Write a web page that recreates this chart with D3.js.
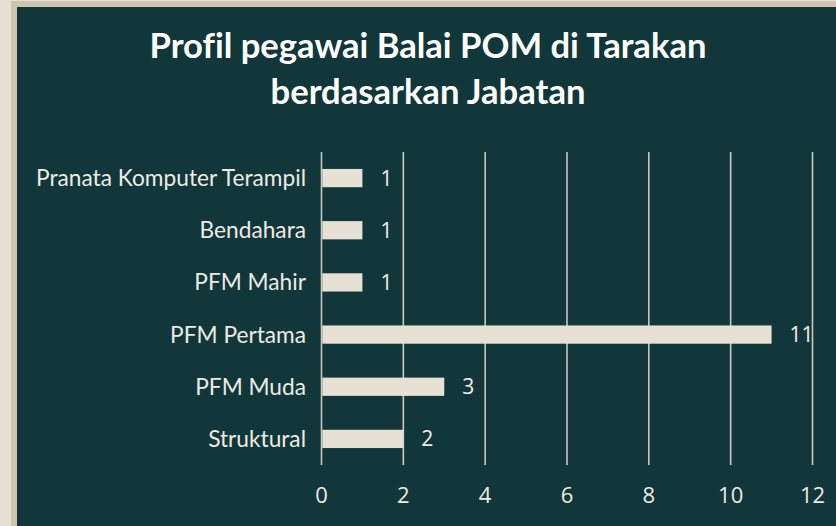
<!DOCTYPE html>
<html>
<head>
<meta charset="utf-8">
<script src="https://cdn.jsdelivr.net/npm/d3@7"></script>
<style>
  html, body { margin: 0; padding: 0; background: #e6e0d3; }
  svg { display: block; }
  text { font-variant-ligatures: none; }
</style>
</head>
<body>
<svg width="836" height="526"></svg>
<script>
// data, top to bottom as drawn
const categories = ['Pranata Komputer Terampil', 'Bendahara', 'PFM Mahir', 'PFM Pertama', 'PFM Muda', 'Struktural'];
const values = [1, 1, 1, 11, 3, 2];
const xTicks = [0, 2, 4, 6, 8, 10, 12];
const titleLines = ['Profil pegawai Balai POM di Tarakan', 'berdasarkan Jabatan'];

const svg = d3.select("svg");
const font = "Lato, 'Open Sans', sans-serif";
const numFont = "'Open Sans', sans-serif";

// frame + dark panel
svg.append("rect").attr("x", 0).attr("y", 0).attr("width", 836).attr("height", 526).attr("fill", "#e6e0d3");
svg.append("rect").attr("x", 11).attr("y", 1).attr("width", 825).attr("height", 525).attr("fill", "#cec5b1");
svg.append("rect").attr("x", 17).attr("y", 7).attr("width", 819).attr("height", 519).attr("fill", "#11373a");

const data = categories.map((c, i) => ({ name: c, value: values[i] }));

const x = d3.scaleLinear().domain([0, 12]).range([321.5, 812.5]);
const y = d3.scaleBand().domain(categories).range([152, 465]).paddingInner(0.65).paddingOuter(0.325);

// gridlines
svg.append("g").selectAll("line").data(xTicks).join("line")
    .attr("x1", d => x(d)).attr("x2", d => x(d))
    .attr("y1", 152).attr("y2", 465)
    .attr("stroke", "#c9c9c2").attr("stroke-width", 1.6);

// bars
svg.append("g").selectAll("rect").data(data).join("rect")
    .attr("x", x(0) + 0.8)
    .attr("y", d => y(d.name))
    .attr("width", d => x(d.value) - x(0) - 0.8)
    .attr("height", y.bandwidth())
    .attr("fill", "#e7e1d5");

// value labels
svg.append("g").selectAll("text").data(data).join("text")
    .attr("x", d => x(d.value) + 18)
    .attr("y", d => y(d.name) + y.bandwidth() / 2)
    .attr("dy", "0.36em")
    .attr("fill", "#f2f0ea")
    .style("font-family", numFont).style("font-size", "21px")
    .text(d => d.value);

// category labels
const catLabels = svg.append("g").selectAll("text").data(data).join("text")
    .attr("x", 306)
    .attr("y", d => y(d.name) + y.bandwidth() / 2)
    .attr("dy", "0.35em")
    .attr("text-anchor", "end")
    .attr("fill", "#ecebe4")
    .style("font-family", font).style("font-size", "19px")
    .text(d => d.name);

// fit label size to the reference width of the longest label
const w0 = catLabels.nodes()[0].getComputedTextLength();
catLabels.style("font-size", (19 * 270 / w0) + "px");

// x axis tick labels
svg.append("g").selectAll("text").data(xTicks).join("text")
    .attr("x", d => x(d))
    .attr("y", 503)
    .attr("text-anchor", "middle")
    .attr("fill", "#ecebe4")
    .style("font-family", numFont).style("font-size", "22px")
    .text(d => d);

// title
const title = svg.append("g").selectAll("text").data(titleLines).join("text")
    .attr("x", 428)
    .attr("y", (d, i) => 58 + i * 46)
    .attr("text-anchor", "middle")
    .attr("fill", "#ffffff")
    .style("font-family", font).style("font-weight", "bold").style("font-size", "30px")
    .text(d => d);
const tw = title.nodes()[0].getComputedTextLength();
title.style("font-size", (30 * 557 / tw) + "px");
</script>
</body>
</html>
